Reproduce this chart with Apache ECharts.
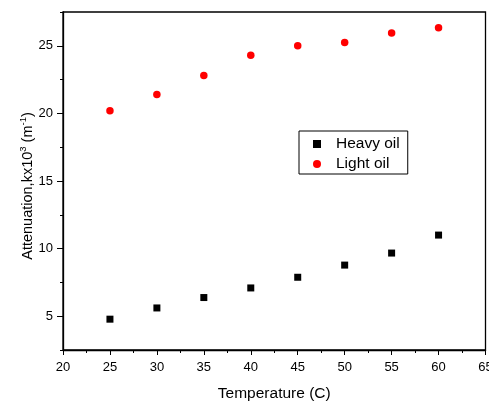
<!DOCTYPE html>
<html>
<head>
<meta charset="utf-8">
<script src="https://cdn.jsdelivr.net/npm/echarts@6/dist/echarts.min.js"></script>
<style>
  html, body { margin: 0; padding: 0; background: #fff; overflow: hidden; }
  #chart { width: 489px; height: 403px; }
</style>
</head>
<body>
<div id="chart"></div>
<script>
// Temperature (C) at which attenuation was measured
const temperatures = [25, 30, 35, 40, 45, 50, 55, 60];
// Attenuation, k x 10^3 (m^-1)
const heavyOil = [4.78, 5.61, 6.38, 7.09, 7.88, 8.78, 9.67, 11.0];
const lightOil = [20.2, 21.4, 22.8, 24.3, 25.0, 25.25, 25.94, 26.33];
// Labelled ticks
const xTickLabels = [20, 25, 30, 35, 40, 45, 50, 55, 60, 65];
const yTickLabels = [5, 10, 15, 20, 25];

const font = 'Liberation Sans, Arial, sans-serif';
const pair = (xs, ys) => xs.map((x, i) => [x, ys[i]]);

const chart = echarts.init(document.getElementById('chart'), null, { renderer: 'canvas' });

const axisLine = { show: true, onZero: false, lineStyle: { color: '#000', width: 1.3 } };

chart.setOption({
  animation: false,
  backgroundColor: '#fff',
  grid: { left: 63, top: 12, right: 3.5, bottom: 53, containLabel: false,
          outerBoundsMode: 'none',
          show: true, borderColor: '#000', borderWidth: 1.3, backgroundColor: 'transparent' },
  xAxis: [
    {
      type: 'value', min: 20, max: 65, interval: 2.5,
      name: 'Temperature (C)', nameLocation: 'middle', nameGap: 36,
      nameTextStyle: { fontFamily: font, fontSize: 15.5, color: '#000' },
      axisLine: axisLine,
      axisTick: { show: true, inside: false, length: 3, lineStyle: { color: '#000', width: 1 } },
      axisLabel: {
        fontFamily: font, fontSize: 13, color: '#000', margin: 11,
        formatter: v => (xTickLabels.includes(v) ? String(v) : '')
      },
      splitLine: { show: false }
    },
    {
      // longer ticks at the labelled values
      type: 'value', min: 20, max: 65, position: 'bottom',
      axisLine: { show: false },
      axisTick: { show: true, inside: false, length: 5, customValues: xTickLabels,
                  lineStyle: { color: '#000', width: 1 } },
      axisLabel: { show: false },
      splitLine: { show: false }
    }
  ],
  yAxis: [
    {
      type: 'value', min: 2.5, max: 27.5, interval: 2.5,
      axisLine: axisLine,
      axisTick: { show: true, inside: false, length: 3, lineStyle: { color: '#000', width: 1 } },
      axisLabel: {
        fontFamily: font, fontSize: 13, color: '#000', margin: 10,
        formatter: v => (yTickLabels.includes(v) ? String(v) : '')
      },
      splitLine: { show: false }
    },
    {
      type: 'value', min: 2.5, max: 27.5, position: 'left',
      axisLine: { show: false },
      axisTick: { show: true, inside: false, length: 6, customValues: yTickLabels,
                  lineStyle: { color: '#000', width: 1 } },
      axisLabel: { show: false },
      splitLine: { show: false }
    }
  ],
  graphic: [
    {
      // y-axis title with superscripts
      type: 'text', x: 28, y: 186, rotation: Math.PI / 2,
      style: {
        text: '{a|Attenuation,kx10}{s|3}{a| (m}{s|-1}{a|)}',
        align: 'center', verticalAlign: 'middle',
        rich: {
          a: { fontFamily: font, fontSize: 14.5, fill: '#000' },
          s: { fontFamily: font, fontSize: 9.5, fill: '#000', verticalAlign: 'top', padding: [0, 0, 9, 0] }
        }
      }
    }
  ],
  legend: {
    orient: 'vertical',
    left: 299, top: 131,
    width: 108,
    padding: [5, 8, 2, 14],
    itemGap: 4,
    itemWidth: 8, itemHeight: 8,
    borderColor: '#000', borderWidth: 1, backgroundColor: '#fff',
    textStyle: { fontFamily: font, fontSize: 15.5, color: '#000', padding: [0, 0, 0, 10] },
    data: [
      { name: 'Heavy oil', icon: 'rect' },
      { name: 'Light oil', icon: 'circle' }
    ]
  },
  series: [
    {
      name: 'Heavy oil', type: 'scatter', symbol: 'rect', symbolSize: 7,
      itemStyle: { color: '#000', opacity: 1 },
      data: pair(temperatures, heavyOil)
    },
    {
      name: 'Light oil', type: 'scatter', symbol: 'circle', symbolSize: 7.5,
      itemStyle: { color: '#ff0000', opacity: 1 },
      data: pair(temperatures, lightOil)
    }
  ]
});
</script>
</body>
</html>
